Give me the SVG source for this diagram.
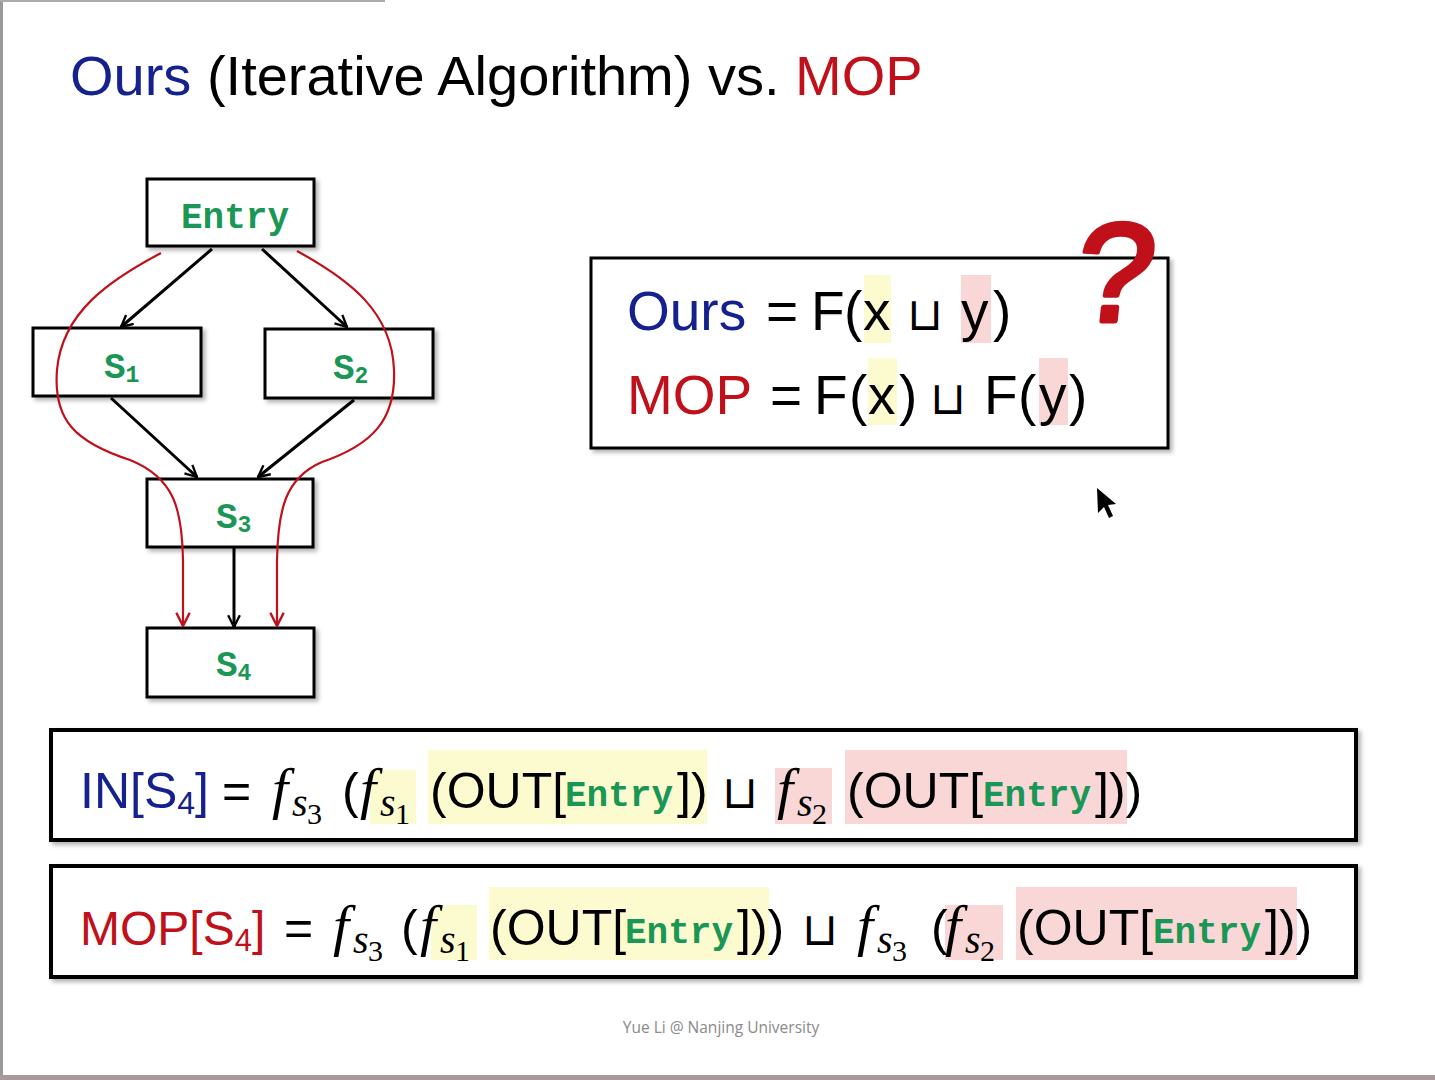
<svg xmlns="http://www.w3.org/2000/svg" width="1435" height="1080" viewBox="0 0 1435 1080">
<defs>
<style>
.box{fill:#fff;stroke:#000;stroke-width:3}
.fbox{fill:#fff;stroke:#000;stroke-width:4}
.node{font-family:"Liberation Mono","DejaVu Sans Mono",monospace;font-weight:bold;fill:#1a9655}
.sans{font-family:"Liberation Sans",Arial,sans-serif}
.mono{font-family:"Liberation Mono","DejaVu Sans Mono",monospace;font-weight:bold;fill:#1a9655}
.it{font-family:"Liberation Serif","Times New Roman",serif;font-style:italic}
.rm{font-family:"Liberation Serif","Times New Roman",serif;font-style:normal}
.cup{font-family:"DejaVu Sans",sans-serif}
.blue{fill:#14218f}
.red{fill:#c0101a}
.yl{fill:#fcfbcf}
.pk{fill:#f9d7d6}
.edge{stroke:#000;stroke-width:3;fill:none}
.redge{stroke:#c0101a;stroke-width:2.2;fill:none}
</style>
<filter id="sh" x="-5%" y="-5%" width="115%" height="125%">
<feDropShadow dx="3" dy="3" stdDeviation="2" flood-color="#000" flood-opacity="0.3"/>
</filter>
<marker id="ah" viewBox="0 0 12 12" refX="11" refY="6" markerWidth="14" markerHeight="14" markerUnits="userSpaceOnUse" orient="auto">
<path d="M1,1 L11,6 L1,11" fill="none" stroke="#000" stroke-width="2"/>
</marker>
<marker id="rah" viewBox="0 0 12 12" refX="11" refY="6" markerWidth="16" markerHeight="16" markerUnits="userSpaceOnUse" orient="auto">
<path d="M1,1 L11,6 L1,11" fill="none" stroke="#c0101a" stroke-width="1.8"/>
</marker>
</defs>
<rect x="0" y="0" width="1435" height="1080" fill="#fff"/>
<!-- page frame -->
<rect x="0" y="0" width="3" height="1080" fill="#9a9a9a"/>
<rect x="0" y="0" width="385" height="2" fill="#aaaaaa"/>
<rect x="0" y="1075" width="1435" height="5" fill="#a89a9c"/>

<!-- title -->
<text class="sans" x="70" y="95" font-size="56"><tspan class="blue">Ours</tspan> (Iterative Algorithm) vs. <tspan class="red">MOP</tspan></text>

<!-- nodes -->
<g id="entry">
<rect class="box" x="147" y="179" width="167" height="67" filter="url(#sh)"/>
<text class="node" x="235" y="228" font-size="36" text-anchor="middle">Entry</text>
</g>
<g id="s1">
<rect class="box" x="33" y="328" width="168" height="68" filter="url(#sh)"/>
<text class="node" x="104" y="378" font-size="36">S<tspan font-size="23" dy="4">1</tspan></text>
</g>
<g id="s2">
<rect class="box" x="265" y="329" width="168" height="69" filter="url(#sh)"/>
<text class="node" x="333" y="379" font-size="36">S<tspan font-size="23" dy="4">2</tspan></text>
</g>
<g id="s3">
<rect class="box" x="147" y="479" width="166" height="68" filter="url(#sh)"/>
<text class="node" x="216" y="528" font-size="36">S<tspan font-size="23" dy="4">3</tspan></text>
</g>
<g id="s4">
<rect class="box" x="147" y="628" width="167" height="69" filter="url(#sh)"/>
<text class="node" x="216" y="676" font-size="36">S<tspan font-size="23" dy="4">4</tspan></text>
</g>

<!-- connectors -->
<g id="connectors">
<line class="edge" x1="212" y1="249" x2="121" y2="327" marker-end="url(#ah)"/>
<line class="edge" x1="262" y1="249" x2="347" y2="327" marker-end="url(#ah)"/>
<line class="edge" x1="111" y1="398" x2="197" y2="477" marker-end="url(#ah)"/>
<line class="edge" x1="354" y1="400" x2="258" y2="477" marker-end="url(#ah)"/>
<line class="edge" x1="234" y1="548" x2="234" y2="627" marker-end="url(#ah)"/>
<path class="redge" d="M161,253 C110,280 62,312 57,370 C53,420 75,442 130,460 C175,478 182,510 183,560 L183,626" marker-end="url(#rah)"/>
<path class="redge" d="M297,251 C350,280 392,312 394,370 C396,420 372,445 322,462 C285,478 278,510 277,560 L277,626" marker-end="url(#rah)"/>
</g>

<!-- comparison box -->
<g id="compare">
<rect class="box" x="591" y="258" width="577" height="190" filter="url(#sh)"/>
<rect class="yl" x="864" y="275" width="27" height="68"/>
<rect class="pk" x="961" y="275" width="30" height="68"/>
<rect class="yl" x="868" y="358" width="29" height="67"/>
<rect class="pk" x="1039" y="358" width="29" height="67"/>
<text class="sans" y="330" font-size="55"><tspan class="blue" x="627">Ours</tspan><tspan x="766">=</tspan><tspan x="811">F</tspan><tspan x="844">(</tspan><tspan x="863">x</tspan><tspan class="cup" x="907" font-size="46">⊔</tspan><tspan x="961">y</tspan><tspan x="993">)</tspan></text>
<text class="sans" y="414" font-size="55"><tspan class="red" x="627">MOP</tspan><tspan x="770">=</tspan><tspan x="814">F</tspan><tspan x="849">(</tspan><tspan x="868">x</tspan><tspan x="899">)</tspan><tspan class="cup" x="930" font-size="46">⊔</tspan><tspan x="984">F</tspan><tspan x="1018">(</tspan><tspan x="1039">y</tspan><tspan x="1069">)</tspan></text>
</g>
<g id="question">
<text class="sans red" x="0" y="0" font-size="140" stroke="#c0101a" stroke-width="5" stroke-linejoin="round" transform="translate(1072,321) skewX(-6)">?</text>
</g>

<!-- IN formula -->
<g id="in-formula">
<rect class="fbox" x="51" y="730" width="1305" height="110" filter="url(#sh)"/>
<rect class="yl" x="370" y="770" width="46" height="54"/>
<rect class="yl" x="428" y="750" width="279" height="74"/>
<rect class="pk" x="775" y="768" width="57" height="56"/>
<rect class="pk" x="845" y="750" width="282" height="74"/>
<text class="sans blue" x="80" y="808" font-size="50">IN[S<tspan font-size="32" dy="6">4</tspan><tspan dy="-6">]</tspan></text>
<text class="sans" x="222" y="808" font-size="50">=</text>
<text class="it" x="272" y="808" font-size="58">f<tspan x="292" dy="8" font-size="40">s</tspan><tspan class="rm" x="307" dy="8" font-size="30">3</tspan></text>
<text class="sans" x="342" y="808" font-size="50">(</text>
<text class="it" x="360" y="808" font-size="58">f<tspan x="380" dy="8" font-size="40">s</tspan><tspan class="rm" x="395" dy="8" font-size="30">1</tspan></text>
<text class="sans" x="430" y="808" font-size="50">(OUT[</text>
<text class="mono" x="565" y="806" font-size="36">Entry</text>
<text class="sans" x="677" y="808" font-size="50">])</text>
<text class="cup" x="722" y="808" font-size="46">⊔</text>
<text class="it" x="777" y="808" font-size="58">f<tspan x="797" dy="8" font-size="40">s</tspan><tspan class="rm" x="812" dy="8" font-size="30">2</tspan></text>
<text class="sans" x="847" y="808" font-size="50">(OUT[</text>
<text class="mono" x="983" y="806" font-size="36">Entry</text>
<text class="sans" x="1095" y="808" font-size="50">]))</text>
</g>

<!-- MOP formula -->
<g id="mop-formula">
<rect class="fbox" x="51" y="866" width="1305" height="111" filter="url(#sh)"/>
<rect class="yl" x="431" y="905" width="46" height="55"/>
<rect class="yl" x="489" y="887" width="280" height="73"/>
<rect class="pk" x="945" y="905" width="58" height="55"/>
<rect class="pk" x="1016" y="887" width="281" height="73"/>
<text class="sans red" x="80" y="945" font-size="48">MOP[S<tspan font-size="31" dy="6">4</tspan><tspan dy="-6">]</tspan></text>
<text class="sans" x="284" y="945" font-size="50">=</text>
<text class="it" x="333" y="945" font-size="58">f<tspan x="353" dy="8" font-size="40">s</tspan><tspan class="rm" x="368" dy="8" font-size="30">3</tspan></text>
<text class="sans" x="401" y="945" font-size="50">(</text>
<text class="it" x="420" y="945" font-size="58">f<tspan x="440" dy="8" font-size="40">s</tspan><tspan class="rm" x="455" dy="8" font-size="30">1</tspan></text>
<text class="sans" x="490" y="945" font-size="50">(OUT[</text>
<text class="mono" x="625" y="943" font-size="36">Entry</text>
<text class="sans" x="737" y="945" font-size="50">]))</text>
<text class="cup" x="802" y="945" font-size="46">⊔</text>
<text class="it" x="857" y="945" font-size="58">f<tspan x="877" dy="8" font-size="40">s</tspan><tspan class="rm" x="892" dy="8" font-size="30">3</tspan></text>
<text class="sans" x="931" y="945" font-size="50">(</text>
<text class="it" x="945" y="945" font-size="58">f<tspan x="965" dy="8" font-size="40">s</tspan><tspan class="rm" x="980" dy="8" font-size="30">2</tspan></text>
<text class="sans" x="1017" y="945" font-size="50">(OUT[</text>
<text class="mono" x="1153" y="943" font-size="36">Entry</text>
<text class="sans" x="1265" y="945" font-size="50">]))</text>
</g>

<!-- cursor -->
<polygon points="1097,488 1098,513 1104,507 1109,518 1113,516 1108,505 1116,504" fill="#000"/>

<!-- footer -->
<text x="721" y="1033" font-family="'Open Sans','Noto Sans',sans-serif" font-size="15.5" fill="#8a8a8a" text-anchor="middle">Yue Li @ Nanjing University</text>
</svg>
